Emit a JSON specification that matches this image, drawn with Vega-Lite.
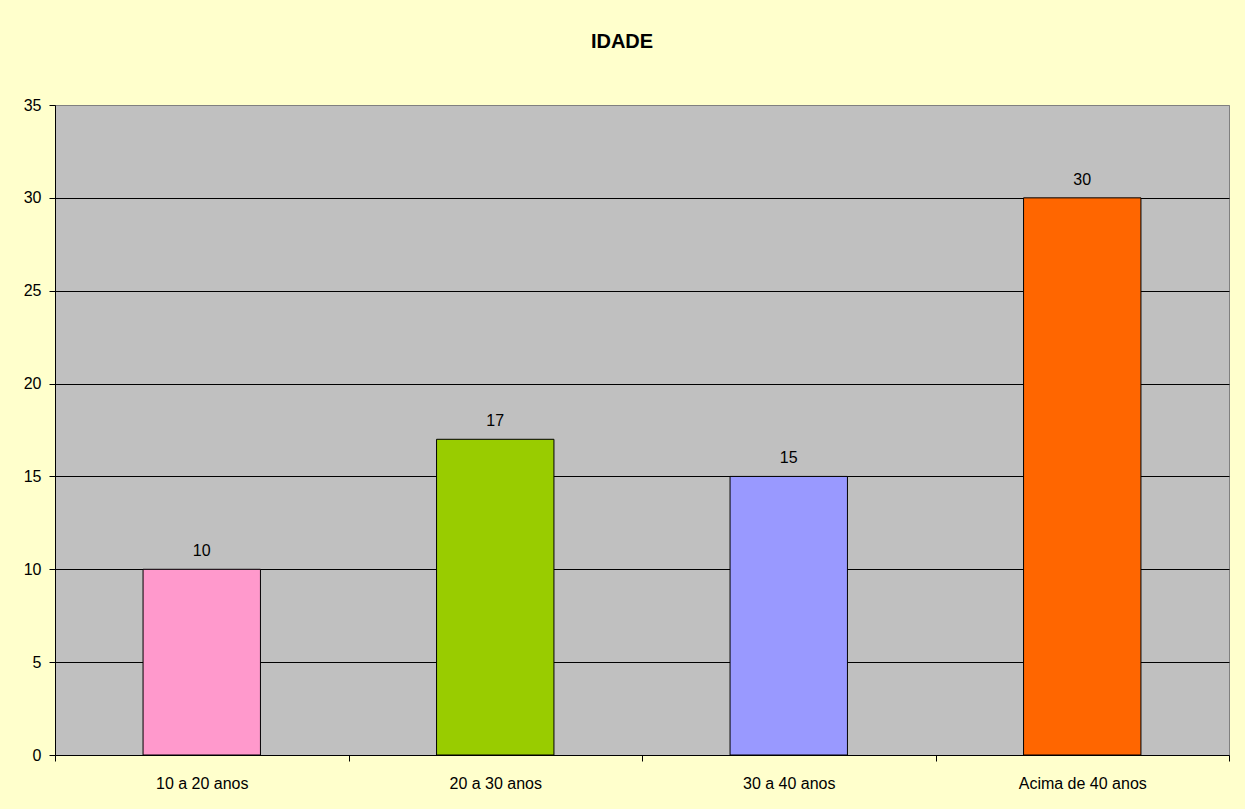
{
  "$schema": "https://vega.github.io/schema/vega-lite/v6.json",
  "width": 1174,
  "height": 650,
  "autosize": {"type": "none"},
  "padding": {"left": 55, "top": 105, "right": 16, "bottom": 54},
  "background": "#FFFFCC",
  "config": {
    "view": {"fill": "#C0C0C0", "stroke": "#808080", "strokeWidth": 1},
    "font": "Liberation Sans"
  },
  "title": {
    "text": "IDADE",
    "fontSize": 20,
    "fontWeight": "bold",
    "font": "Liberation Sans",
    "color": "black",
    "anchor": "middle",
    "dx": -20,
    "offset": 45
  },
  "data": {
    "values": [
      {"faixa": "10 a 20 anos", "n": 10},
      {"faixa": "20 a 30 anos", "n": 17},
      {"faixa": "30 a 40 anos", "n": 15},
      {"faixa": "Acima de 40 anos", "n": 30}
    ]
  },
  "layer": [
    {
      "mark": {"type": "bar", "width": {"band": 0.4}, "stroke": "black", "strokeWidth": 1, "opacity": 1},
      "encoding": {
        "x": {
          "field": "faixa", "type": "nominal", "sort": null,
          "scale": {"paddingInner": 0, "paddingOuter": 0},
          "axis": {
            "title": null, "labelAngle": 0, "tickBand": "extent",
            "labelFontSize": 16, "labelColor": "black", "labelFont": "Liberation Sans",
            "tickColor": "black", "domainColor": "black", "tickSize": 6, "labelPadding": 14,
            "grid": false
          }
        },
        "y": {
          "field": "n", "type": "quantitative",
          "scale": {"domain": [0, 35], "nice": false},
          "axis": {
            "values": [0, 5, 10, 15, 20, 25, 30, 35],
            "title": null, "grid": true,
            "gridColor": {"condition": {"test": "datum.value === 35 || datum.value === 0", "value": "#808080"}, "value": "black"},
            "gridOpacity": 1, "gridWidth": 1,
            "labelFontSize": 16, "labelColor": "black", "labelFont": "Liberation Sans",
            "tickColor": "black", "domainColor": "black", "tickSize": 6, "labelPadding": 8
          }
        },
        "color": {
          "field": "faixa", "type": "nominal", "sort": null,
          "scale": {"range": ["#FF99CC", "#99CC00", "#9999FF", "#FF6600"]},
          "legend": null
        }
      }
    },
    {
      "mark": {"type": "text", "dy": -18, "fontSize": 16, "color": "black", "font": "Liberation Sans"},
      "encoding": {
        "x": {"field": "faixa", "type": "nominal", "sort": null},
        "y": {"field": "n", "type": "quantitative"},
        "text": {"field": "n", "type": "quantitative"}
      }
    }
  ]
}
